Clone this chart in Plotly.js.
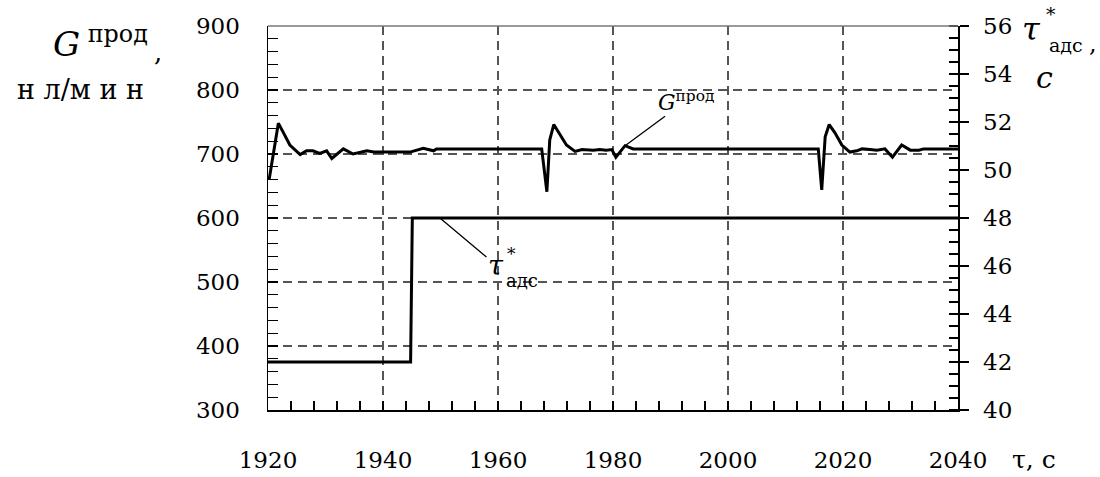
<!DOCTYPE html>
<html><head><meta charset="utf-8">
<script src="https://cdn.plot.ly/plotly-3.0.1.min.js"></script>
<style>body{margin:0;background:#fff}#c{width:1100px;height:477px}</style>
</head><body><div id="c"></div>
<script>
// G^прод (left axis, нл/мин) vs time
const gTime = [1920.2, 1921.8, 1922.7, 1923.8, 1925.6, 1926.7, 1927.8, 1929.0, 1930.2, 1931.1, 1933.1, 1934.8, 1937.2, 1938.4, 1944.7, 1947.0, 1948.8, 1949.3, 1967.6, 1968.5, 1969.0, 1969.7, 1970.8, 1971.9, 1973.4, 1974.6, 1976.6, 1977.7, 1978.8, 1979.8, 1980.5, 1982.1, 1983.5, 2015.7, 2016.3, 2016.9, 2017.6, 2018.6, 2019.8, 2021.2, 2022.4, 2023.3, 2024.7, 2025.9, 2027.3, 2028.6, 2030.2, 2031.7, 2033.2, 2034.0, 2040];
const gValue = [660, 748, 733, 714, 699, 705, 705, 701, 705, 693, 708, 700, 705, 703, 703, 709, 705, 708, 708, 641, 722, 746, 730, 714, 704, 707, 706, 707, 706, 707, 695, 713, 708, 708, 644, 727, 746, 733, 714, 703, 705, 708, 707, 706, 708, 695, 714, 706, 706, 708, 708];
// tau*_адс (right axis, c) vs time
const tauTime = [1920, 1944.8, 1945.1, 2040];
const tauValue = [42, 42, 48, 48];
// tick labels
const xTicks = [1920, 1940, 1960, 1980, 2000, 2020, 2040];
const yLeftTicks = [300, 400, 500, 600, 700, 800, 900];
const yRightTicks = [40, 42, 44, 46, 48, 50, 52, 54, 56];

const FONT = "DejaVu Serif";
const L = 268, R = 958, T = 26, B = 410;
const px = x => (x - L) / (R - L);
const py = y => 1 - (y - T) / (B - T);

const traces = [
  {x: gTime, y: gValue, type: 'scatter', mode: 'lines', line: {color: '#000', width: 3}, yaxis: 'y', hoverinfo: 'skip'},
  {x: tauTime, y: tauValue, type: 'scatter', mode: 'lines', line: {color: '#000', width: 3}, yaxis: 'y2', hoverinfo: 'skip'}
];

function ann(text, x, y, size, extra) {
  return Object.assign({text: text, xref: 'paper', yref: 'paper', x: px(x), y: py(y), showarrow: false,
    xanchor: 'center', yanchor: 'middle', font: {family: FONT, size: size, color: '#000'}}, extra || {});
}

const layout = {
  width: 1100, height: 477,
  margin: {l: L, r: 1100 - R, t: T, b: 477 - B},
  paper_bgcolor: '#fff', plot_bgcolor: '#fff',
  showlegend: false,
  xaxis: {
    range: [1920, 2040], tickvals: xTicks, ticktext: xTicks.map(String),
    ticks: 'inside', ticklen: 9, tickcolor: '#000', tickwidth: 1.3,
    minor: {dtick: 4, tick0: 1920, ticks: 'inside', ticklen: 9, tickcolor: '#000', tickwidth: 1.3, showgrid: false},
    showline: true, linecolor: '#000', linewidth: 1.5, mirror: false,
    showgrid: true, gridcolor: '#555', gridwidth: 1.5, griddash: '9px,6px',
    zeroline: false, ticklabelstandoff: 29,
    tickfont: {family: FONT, size: 23, color: '#000'}
  },
  yaxis: {
    range: [300, 900], tickvals: yLeftTicks, ticktext: yLeftTicks.map(String),
    ticks: 'inside', ticklen: 10, tickcolor: '#000', tickwidth: 1.3,
    minor: {dtick: 20, tick0: 300, ticks: 'inside', ticklen: 10, tickcolor: '#000', tickwidth: 1.3, showgrid: false},
    showline: true, linecolor: '#000', linewidth: 1.5,
    showgrid: true, gridcolor: '#555', gridwidth: 1.5, griddash: '9px,6px',
    zeroline: false, ticklabelstandoff: 22,
    tickfont: {family: FONT, size: 23, color: '#000'}
  },
  yaxis2: {
    overlaying: 'y', side: 'right', range: [40, 56], tickvals: yRightTicks, ticktext: yRightTicks.map(String),
    ticks: 'outside', ticklen: 9, tickcolor: '#000', tickwidth: 1.3,
    minor: {dtick: 0.5, tick0: 40, ticks: 'inside', ticklen: 9, tickcolor: '#000', tickwidth: 1.3, showgrid: false},
    showline: true, linecolor: '#000', linewidth: 1.5,
    showgrid: false, zeroline: false, ticklabelstandoff: 10,
    tickfont: {family: FONT, size: 23, color: '#000'}
  },
  shapes: [
    {type: 'line', xref: 'paper', yref: 'paper', x0: 0, x1: 1, y0: 1, y1: 1, line: {color: '#777', width: 1.5}}
  ],
  annotations: [
    // left axis title
    ann('<i>G</i><sup> прод</sup>', 100, 42, 34),
    ann(',', 158, 52, 26),
    ann('н л/м и н', 81, 90, 27),
    // right axis title
    ann('<i>τ</i>', 1031, 29, 32),
    ann('*', 1051, 14, 19),
    ann('адс', 1066, 45, 19),
    ann(',', 1093, 44, 24),
    ann('<i>с</i>', 1044, 77, 30),
    // x axis title
    ann('τ, с', 1034, 459, 25),
    // curve labels with leader lines to the curves
    {text: '<i>G</i><sup>прод</sup>', x: 1982.1, y: 713, xref: 'x', yref: 'y', ax: 61, ay: -45, axref: 'pixel', ayref: 'pixel',
      showarrow: true, arrowhead: 0, arrowwidth: 1.3, arrowcolor: '#000', font: {family: FONT, size: 22, color: '#000'}},
    {text: '<i>τ</i>', x: 1949.9, y: 48, xref: 'x', yref: 'y2', ax: 56, ay: 47, axref: 'pixel', ayref: 'pixel',
      showarrow: true, arrowhead: 0, arrowwidth: 1.3, arrowcolor: '#000', font: {family: FONT, size: 27, color: '#000'}},
    ann('*', 511, 254, 17),
    ann('адс', 522, 280, 18)
  ]
};

Plotly.newPlot('c', traces, layout, {displayModeBar: false, staticPlot: true});
</script>
</body></html>
